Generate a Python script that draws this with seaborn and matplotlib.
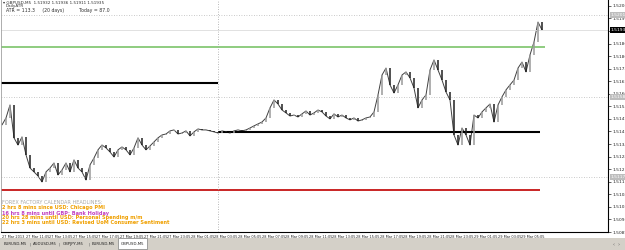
import numpy as np
import pandas as pd
import seaborn as sns
import matplotlib.pyplot as plt
from matplotlib.patches import Rectangle

# GBPUSD M5 closes (one value ~ every 20 min)
closes = [1.51444, 1.51480, 1.51547, 1.51377, 1.51340, 1.51382, 1.51289, 1.51221, 1.51201, 1.51180,
          1.51149, 1.51201, 1.51221, 1.51247, 1.51185, 1.51211, 1.51247, 1.51201, 1.51263, 1.51221,
          1.51201, 1.51159, 1.51237, 1.51273, 1.51315, 1.51340, 1.51325, 1.51304, 1.51278, 1.51315,
          1.51330, 1.51315, 1.51289, 1.51325, 1.51377, 1.51340, 1.51315, 1.51335, 1.51356, 1.51377,
          1.51392, 1.51397, 1.51413, 1.51418, 1.51397, 1.51402, 1.51413, 1.51387, 1.51408, 1.51423,
          1.51418, 1.51418, 1.51413, 1.51408, 1.51402, 1.51413, 1.51408, 1.51402, 1.51413, 1.51418,
          1.51413, 1.51418, 1.51428, 1.51439, 1.51449, 1.51459, 1.51480, 1.51532, 1.51573, 1.51552,
          1.51521, 1.51506, 1.51490, 1.51495, 1.51485, 1.51501, 1.51516, 1.51495, 1.51506, 1.51521,
          1.51511, 1.51490, 1.51475, 1.51501, 1.51485, 1.51495, 1.51480, 1.51470, 1.51480, 1.51464,
          1.51470, 1.51480, 1.51485, 1.51511, 1.51599, 1.51702, 1.51738, 1.51651, 1.51609, 1.51651,
          1.51702, 1.51718, 1.51687, 1.51635, 1.51532, 1.51573, 1.51599, 1.51728, 1.51780, 1.51728,
          1.51676, 1.51614, 1.51573, 1.51392, 1.51340, 1.51428, 1.51392, 1.51340, 1.51495, 1.51480,
          1.51511, 1.51532, 1.51552, 1.51459, 1.51547, 1.51589, 1.51625, 1.51651, 1.51676, 1.51738,
          1.51769, 1.51718, 1.51806, 1.51873, 1.51976, 1.51935]

y_ticks = [1.52060, 1.51995, 1.51930, 1.51865, 1.51800, 1.51735, 1.51670, 1.51605, 1.51540,
           1.51475, 1.51410, 1.51345, 1.51280, 1.51215, 1.51150, 1.51085, 1.51020, 1.50955, 1.50890]

x_labels = ["27 Mar 2013", "27 Mar 11:05", "27 Mar 13:05", "27 Mar 15:05", "27 Mar 17:05",
            "27 Mar 19:05", "27 Mar 21:05", "27 Mar 23:05", "28 Mar 01:05", "28 Mar 03:05",
            "28 Mar 05:05", "28 Mar 07:05", "28 Mar 09:05", "28 Mar 11:05", "28 Mar 13:05",
            "28 Mar 15:05", "28 Mar 17:05", "28 Mar 19:05", "28 Mar 21:05", "28 Mar 23:05",
            "29 Mar 01:05", "29 Mar 03:05", "29 Mar 05:05"]

level_green = 1.51847
level_black_hi = 1.51661
level_black_lo = 1.51408
level_red = 1.51108
dotted_levels = [1.52012, 1.51589, 1.51175]
dotted_labels = ["1.52012", "1.51589", "1.51175"]
last_price = "1.51935"

headlines = ["FOREX FACTORY CALENDAR HEADLINES:",
             "2 hrs 8 mins since USD: Chicago PMI",
             "16 hrs 8 mins until GBP: Bank Holiday",
             "20 hrs 28 mins until USD: Personal Spending m/m",
             "22 hrs 3 mins until USD: Revised UoM Consumer Sentiment"]
headline_colors = ["#a8a8a8", "#f0a000", "#c040c0", "#f0a000", "#f0a000"]

tabs = ["EURUSD,M5", "AUDUSD,M5", "GBPJPY,M5", "EURUSD,M5", "GBPUSD,M5"]

df = pd.DataFrame({"bar": np.arange(len(closes)), "close": closes})
df["open"] = df["close"].shift(1).fillna(df["close"].iloc[0])
df["lo"] = df[["open", "close"]].min(axis=1)
df["hi"] = df[["open", "close"]].max(axis=1)
df["up"] = df["close"] >= df["open"]

sns.set_style("white")
plt.rcParams["font.family"] = ["DejaVu Sans"]

fig = plt.figure(figsize=(6.25, 2.5), dpi=100)
ax = fig.add_axes([1 / 625, 1 - 232 / 250, 607 / 625, 232 / 250])

# bars
for up, col in [(True, "#9a9a9a"), (False, "#202020")]:
    d = df[df["up"] == up]
    ax.vlines(d["bar"], d["lo"], d["hi"], colors=col, lw=1.1, zorder=3)
sns.lineplot(data=df, x="bar", y="close", color="#404040", lw=0.7, ax=ax, zorder=2)

# levels
ax.hlines(level_green, -1, 135.8, color="#7cc46a", lw=1.2)
ax.hlines(level_black_hi, -1, 54, color="black", lw=1.5)
ax.hlines(level_black_lo, 54, 134.5, color="black", lw=1.5)
ax.hlines(level_red, -1, 134.5, color="#c00000", lw=1.2)
for lv in dotted_levels:
    ax.axhline(lv, color="#b8b8b8", lw=0.6, ls=(0, (1, 2)))
ax.axhline(float(last_price), color="#dcdcdc", lw=0.6)
ax.axvline(54, color="#a0a0a0", lw=0.6, ls=(0, (1, 2)))

ax.set_xlim(-0.25, 151.5)
ax.set_ylim(1.50891, 1.52090)
ax.set_xlabel("")
ax.set_ylabel("")

ax.yaxis.tick_right()
ax.set_yticks(y_ticks)
ax.set_yticklabels([f"{v:.5f}" for v in y_ticks])
ax.set_xticks([5.9 * k for k in range(len(x_labels))])
ax.set_xticklabels(x_labels, ha="left")
ax.tick_params(axis="y", labelsize=3.2, length=2, pad=1, width=0.5)
ax.tick_params(axis="x", labelsize=2.5, length=2, pad=0.5, width=0.5)

ax.spines["top"].set_visible(False)
ax.spines["left"].set_color("#a0a0a0")
ax.spines["left"].set_linewidth(0.6)
ax.spines["right"].set_color("black")
ax.spines["right"].set_linewidth(0.8)
ax.spines["bottom"].set_color("black")
ax.spines["bottom"].set_linewidth(0.8)

ytr = ax.get_yaxis_transform()
for lv, lb in zip(dotted_levels, dotted_labels):
    ax.text(1.004, lv, lb, transform=ytr, fontsize=3.2, color="white", va="center", ha="left",
            bbox=dict(fc="#bdbdbd", ec="none", pad=0.5), clip_on=False, zorder=5)
ax.text(1.004, float(last_price), last_price, transform=ytr, fontsize=3.2, color="white",
        va="center", ha="left", bbox=dict(fc="black", ec="none", pad=0.5), clip_on=False, zorder=5)

# info text top-left
fig.text(3 / 625, 1 - 2.5 / 250, "\u25be GBPUSD,M5  1.51932 1.51936 1.51911 1.51935", fontsize=3.0,
         va="center", ha="left", color="#303030")
fig.text(6 / 625, 1 - 6.5 / 250, "DailyATR", fontsize=3.0, va="center", ha="left", color="#303030")
fig.text(6 / 625, 1 - 10.5 / 250, "ATR = 113.3     (20 days)          Today = 87.0", fontsize=3.3,
         va="center", ha="left", color="#303030")

# headlines
for i, (t, c) in enumerate(zip(headlines, headline_colors)):
    fig.text(2 / 625, 1 - (203 + 5 * i) / 250, t, fontsize=3.6, color=c, va="center", ha="left",
             fontweight="bold" if i else "normal")

# tab bar
fig.patches.append(Rectangle((0, 0), 1, 12 / 250, transform=fig.transFigure,
                             fc="#d4d0c8", ec="none", zorder=0))
for i, t in enumerate(tabs):
    x0 = (4 + 29.3 * i) / 625
    if i == len(tabs) - 1:
        fig.patches.append(Rectangle((x0 - 3 / 625, 1 / 250), 29 / 625, 11 / 250,
                                     transform=fig.transFigure, fc="white", ec="#808080",
                                     lw=0.5, zorder=1))
    fig.text(x0, 6 / 250, t, fontsize=2.8, va="center", ha="left", color="#202020", zorder=2)
    if i < len(tabs) - 2:
        fig.text(x0 + 25.5 / 625, 6 / 250, "|", fontsize=3.0, va="center", ha="left", color="#606060")
fig.text(1 - 12 / 625, 6 / 250, "\u2039  \u203a", fontsize=3.5, va="center", ha="left", color="#606060")

fig.savefig("out.png", dpi=100)
